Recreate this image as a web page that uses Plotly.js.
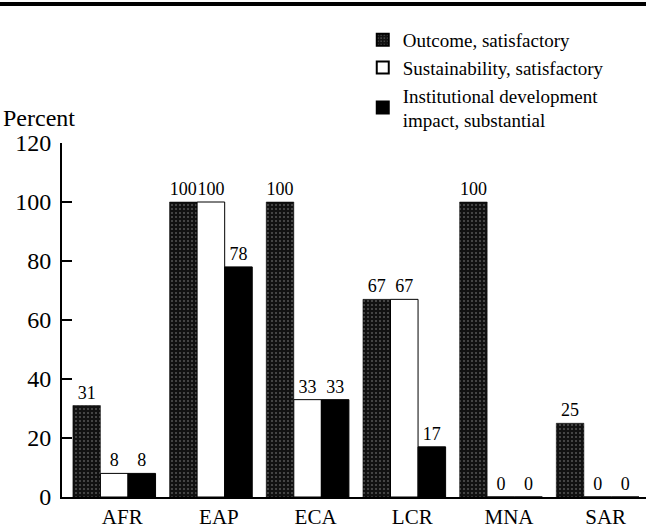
<!DOCTYPE html>
<html><head><meta charset="utf-8">
<script src="https://cdn.plot.ly/plotly-3.0.1.min.js"></script>
<style>html,body{margin:0;padding:0;background:#fff;}#chart{width:646px;height:532px;}</style>
</head><body><div id="chart"></div>
<script>
const regions = ["AFR","EAP","ECA","LCR","MNA","SAR"];
const outcome = [31,100,100,67,100,25];
const sustainability = [8,100,33,67,0,0];
const institutional = [8,78,33,17,0,0];
const seriesNames = ["Outcome, satisfactory","Sustainability, satisfactory","Institutional development<br>impact, substantial"];
const yTicks = [0,20,40,60,80,100,120];

const F = 'Liberation Serif';
const common = {type:'bar', x:regions, textposition:'outside', texttemplate:'%{y}', cliponaxis:false,
  textfont:{family:F,size:18,color:'#000'}, hoverinfo:'none'};
const traces = [
  Object.assign({}, common, {name:seriesNames[0], y:outcome,
    marker:{color:'#1a1a1a', line:{color:'#000',width:0.5}, pattern:{shape:'.', bgcolor:'#111', fgcolor:'#555', size:4, solidity:0.2}}}),
  Object.assign({}, common, {name:seriesNames[1], y:sustainability,
    marker:{color:'#fff', line:{color:'#000',width:1}}}),
  Object.assign({}, common, {name:seriesNames[2], y:institutional,
    marker:{color:'#000', line:{color:'#000',width:1}}})
];
const layout = {
  width:646, height:532,
  margin:{l:62, r:0, t:143, b:35},
  paper_bgcolor:'#fff', plot_bgcolor:'#fff',
  font:{family:F, color:'#000'},
  barmode:'group', bargap:0.145, bargroupgap:0,
  showlegend:true,
  legend:{x:0.515, y:1.345, xanchor:'left', yanchor:'top', font:{family:F,size:19,color:'#000'}, bgcolor:'rgba(0,0,0,0)', tracegroupgap:0, traceorder:'normal', itemsizing:'constant', itemwidth:30},
  xaxis:{type:'category', range:[-0.54,5.5], showline:true, linecolor:'#000', linewidth:2, ticks:'', showgrid:false, zeroline:false,
    tickfont:{family:F,size:21,color:'#000'}, ticklabelshift:8, fixedrange:true},
  yaxis:{range:[0,120], tickvals:yTicks, showline:true, linecolor:'#000', linewidth:2, ticks:'inside', ticklen:10, tickwidth:2, tickcolor:'#000',
    showgrid:false, zeroline:false, tickfont:{family:F,size:24,color:'#000'}, ticklabelstandoff:4, fixedrange:true},
  annotations:[{text:'Percent', xref:'paper', yref:'paper', x:-62/584, y:1+ (143-118)/354, xanchor:'left', yanchor:'middle', showarrow:false, font:{family:F,size:24,color:'#000'}, xshift:1}],
  shapes:[{type:'line', xref:'paper', yref:'paper', x0:-62/584, x1:1, y0:1+(143-4)/354, y1:1+(143-4)/354, line:{color:'#000', width:4}}]
};
Plotly.newPlot('chart', traces, layout, {displayModeBar:false, staticPlot:true});
</script></body></html>
